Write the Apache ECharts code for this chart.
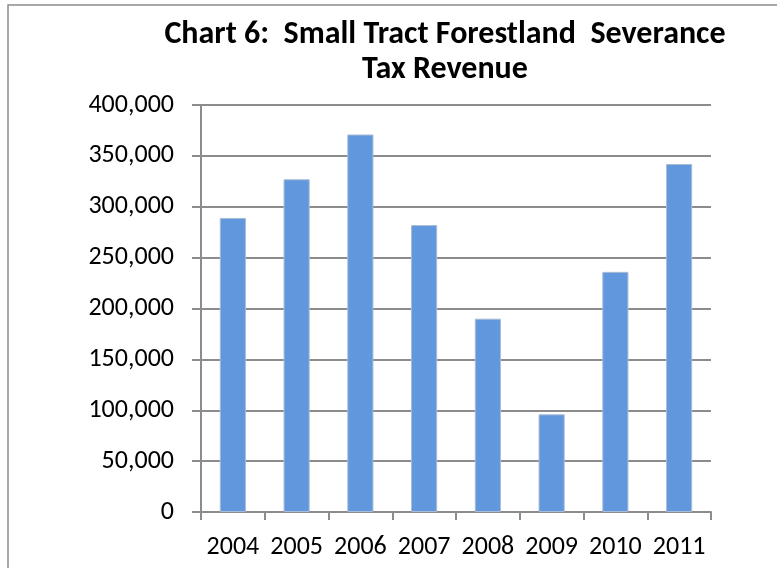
<!DOCTYPE html>
<html>
<head>
<meta charset="utf-8">
<script src="https://cdn.jsdelivr.net/npm/echarts@6/dist/echarts.min.js"></script>
<style>
  html, body { margin: 0; padding: 0; background: #fff; }
  #chart { width: 777px; height: 568px; }
</style>
</head>
<body>
<div id="chart"></div>
<script>
var titleLines = ['Chart 6:  Small Tract Forestland  Severance', 'Tax Revenue'];
var years = ['2004', '2005', '2006', '2007', '2008', '2009', '2010', '2011'];
var revenue = [289000, 327000, 371000, 282000, 190000, 96000, 236000, 342000];
var yMin = 0, yMax = 400000, yStep = 50000;

var FONT = 'Carlito, "Open Sans", sans-serif';
var chart = echarts.init(document.getElementById('chart'));
chart.setOption({
  animation: false,
  backgroundColor: '#ffffff',
  graphic: [{
    type: 'rect',
    shape: { x: 8, y: 5, width: 900, height: 700 },
    style: { fill: 'none', stroke: '#8c8c8c', lineWidth: 1.5 },
    z: -1
  }],
  title: {
    text: titleLines.join('\n'),
    left: 440,
    top: 12,
    textAlign: 'center',
    textStyle: { fontFamily: FONT, fontWeight: 'bold', fontSize: 32, color: '#000', lineHeight: 35 }
  },
  grid: { left: 201, right: 66, top: 105, bottom: 56 },
  xAxis: {
    type: 'category',
    data: years,
    axisLine: { lineStyle: { color: '#8c8c8c', width: 2 } },
    axisTick: { show: true, alignWithLabel: false, length: 8, lineStyle: { color: '#8c8c8c', width: 2 } },
    axisLabel: { interval: 0, margin: 22, fontFamily: FONT, fontSize: 26, color: '#000' }
  },
  yAxis: {
    type: 'value',
    min: yMin, max: yMax, interval: yStep,
    axisLine: { show: true, lineStyle: { color: '#8c8c8c', width: 2 } },
    axisTick: { show: true, length: 9, lineStyle: { color: '#8c8c8c', width: 2 } },
    splitLine: { lineStyle: { color: '#8c8c8c', width: 2 } },
    axisLabel: {
      margin: 27, fontFamily: FONT, fontSize: 26, color: '#000',
      formatter: function (v) { return v.toLocaleString('en-US'); }
    }
  },
  series: [{
    type: 'bar',
    data: revenue,
    barWidth: '41%',
    itemStyle: { color: '#6197dd', borderColor: '#a9bcd6', borderWidth: 1 }
  }]
});
</script>
</body>
</html>
